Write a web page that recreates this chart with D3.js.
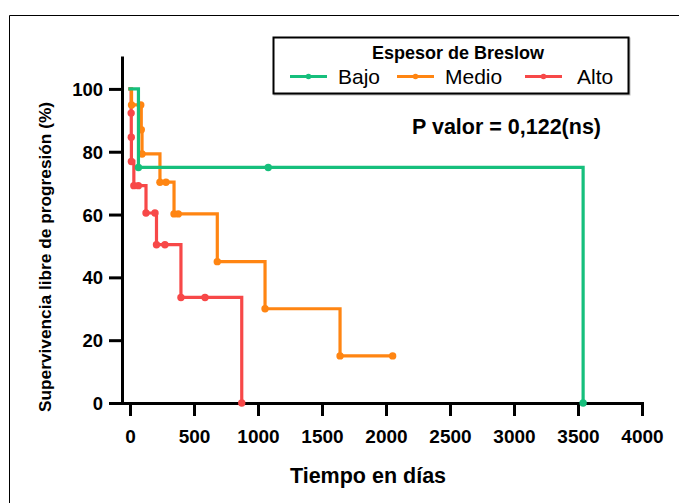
<!DOCTYPE html>
<html>
<head>
<meta charset="utf-8">
<script src="https://cdn.jsdelivr.net/npm/d3@7"></script>
<style>
  html, body { margin: 0; padding: 0; background: #fff; }
  svg { display: block; font-family: "Liberation Sans", Arial, sans-serif; }
</style>
</head>
<body>
<svg id="chart" width="679" height="503"></svg>
<script>
// Kaplan–Meier steps: each point is a subject (event or censored), starting at (0, 100)
const groups = ["Bajo", "Medio", "Alto"];
const colors = ["#16bf7c", "#ff8512", "#f74848"];

const bajoTime = [0, 66, 1080, 3540];
const bajoSurv = [100, 75, 75, 0];

const medioTime = [0, 12, 84, 88, 94, 234, 281, 344, 377, 682, 1055, 1641, 2052];
const medioSurv = [100, 94.9, 94.9, 87.0, 79.3, 70.3, 70.3, 60.2, 60.2, 45.0, 30.0, 15.0, 15.0];

const altoTime = [0, 9, 10, 11, 30, 65, 125, 195, 207, 273, 398, 586, 873];
const altoSurv = [100, 92.3, 84.6, 76.9, 69.2, 69.2, 60.5, 60.5, 50.4, 50.4, 33.6, 33.6, 0];

const xTicks = [0, 500, 1000, 1500, 2000, 2500, 3000, 3500, 4000];
const yTicks = [0, 20, 40, 60, 80, 100];

const svg = d3.select("#chart");

// outer frame
svg.append("path")
  .attr("d", "M9.5,503 V15.5 H679")
  .attr("fill", "none").attr("stroke", "#000").attr("stroke-width", 1);

const x = d3.scaleLinear().domain([-62.5, 4000]).range([122, 642]);
const y = d3.scaleLinear().domain([0, 110]).range([403, 57.5]);

// axes
const xAxis = svg.append("g")
  .attr("transform", `translate(0,${y(0)})`)
  .call(d3.axisBottom(x).tickValues(xTicks).tickSize(13).tickSizeOuter(0).tickPadding(10).tickFormat(d3.format("d")));
const yAxis = svg.append("g")
  .attr("transform", `translate(${x.range()[0]},0)`)
  .call(d3.axisLeft(y).tickValues(yTicks).tickSize(13).tickSizeOuter(0).tickPadding(6).tickFormat(d3.format("d")));

[xAxis, yAxis].forEach(g => {
  g.select(".domain").attr("stroke", "#000").attr("stroke-width", 3).attr("stroke-linecap", "square");
  g.selectAll(".tick line").attr("stroke", "#000").attr("stroke-width", 3);
  g.selectAll(".tick text")
    .attr("fill", "#000")
    .attr("font-family", "Liberation Sans, Arial, sans-serif")
    .attr("font-weight", "bold");
});
xAxis.selectAll(".tick text").attr("font-size", 19).attr("dy", "0.92em");
yAxis.selectAll(".tick text").attr("font-size", 18.5).attr("dy", "0.35em");

// axis titles
svg.append("text")
  .attr("x", 368).attr("y", 483)
  .attr("text-anchor", "middle")
  .attr("font-size", 21.5).attr("font-weight", "bold")
  .text("Tiempo en días");

svg.append("text")
  .attr("transform", "translate(51,257) rotate(-90)")
  .attr("text-anchor", "middle")
  .attr("font-size", 17.3).attr("font-weight", "bold")
  .text("Supervivencia libre de progresión (%)");

// survival curves
const seriesData = [
  { name: "Alto", t: altoTime, s: altoSurv, color: colors[2] },
  { name: "Medio", t: medioTime, s: medioSurv, color: colors[1] },
  { name: "Bajo", t: bajoTime, s: bajoSurv, color: colors[0] }
];

const line = d3.line()
  .x(d => x(d[0]))
  .y(d => y(d[1]))
  .curve(d3.curveStepAfter);

seriesData.forEach(sr => {
  const pts = sr.t.map((t, i) => [t, sr.s[i]]);
  const g = svg.append("g");
  g.append("path")
    .attr("d", line(pts))
    .attr("fill", "none")
    .attr("stroke", sr.color)
    .attr("stroke-width", 3.2)
    .attr("stroke-linejoin", "miter")
    .attr("stroke-linecap", "square");
  g.selectAll("circle")
    .data(pts.slice(1))
    .join("circle")
    .attr("cx", d => x(d[0]))
    .attr("cy", d => y(d[1]))
    .attr("r", 3.7)
    .attr("fill", sr.color);
});

// legend
const lg = svg.append("g");
lg.append("rect")
  .attr("x", 274.5).attr("y", 38.5).attr("width", 355).attr("height", 56)
  .attr("fill", "none").attr("stroke", "#bbb").attr("stroke-width", 2);
lg.append("rect")
  .attr("x", 273.5).attr("y", 37.5).attr("width", 355).attr("height", 56)
  .attr("fill", "#fff").attr("stroke", "#000").attr("stroke-width", 2);
lg.append("text")
  .attr("x", 458).attr("y", 59)
  .attr("text-anchor", "middle")
  .attr("font-size", 18).attr("font-weight", "bold")
  .text("Espesor de Breslow");

const legendX = [290, 397, 525];
groups.forEach((name, i) => {
  const item = lg.append("g");
  item.append("line")
    .attr("x1", legendX[i]).attr("x2", legendX[i] + 37)
    .attr("y1", 76.5).attr("y2", 76.5)
    .attr("stroke", colors[i]).attr("stroke-width", 3);
  item.append("circle")
    .attr("cx", legendX[i] + 18.5).attr("cy", 76.5).attr("r", 2.8)
    .attr("fill", colors[i]);
  item.append("text")
    .attr("x", legendX[i] + (i === 2 ? 52 : 48)).attr("y", 84)
    .attr("font-size", 21)
    .text(name);
});

// test result
svg.append("text")
  .attr("x", 412).attr("y", 134)
  .attr("font-size", 21.5).attr("font-weight", "bold")
  .text("P valor = 0,122(ns)");
</script>
</body>
</html>
